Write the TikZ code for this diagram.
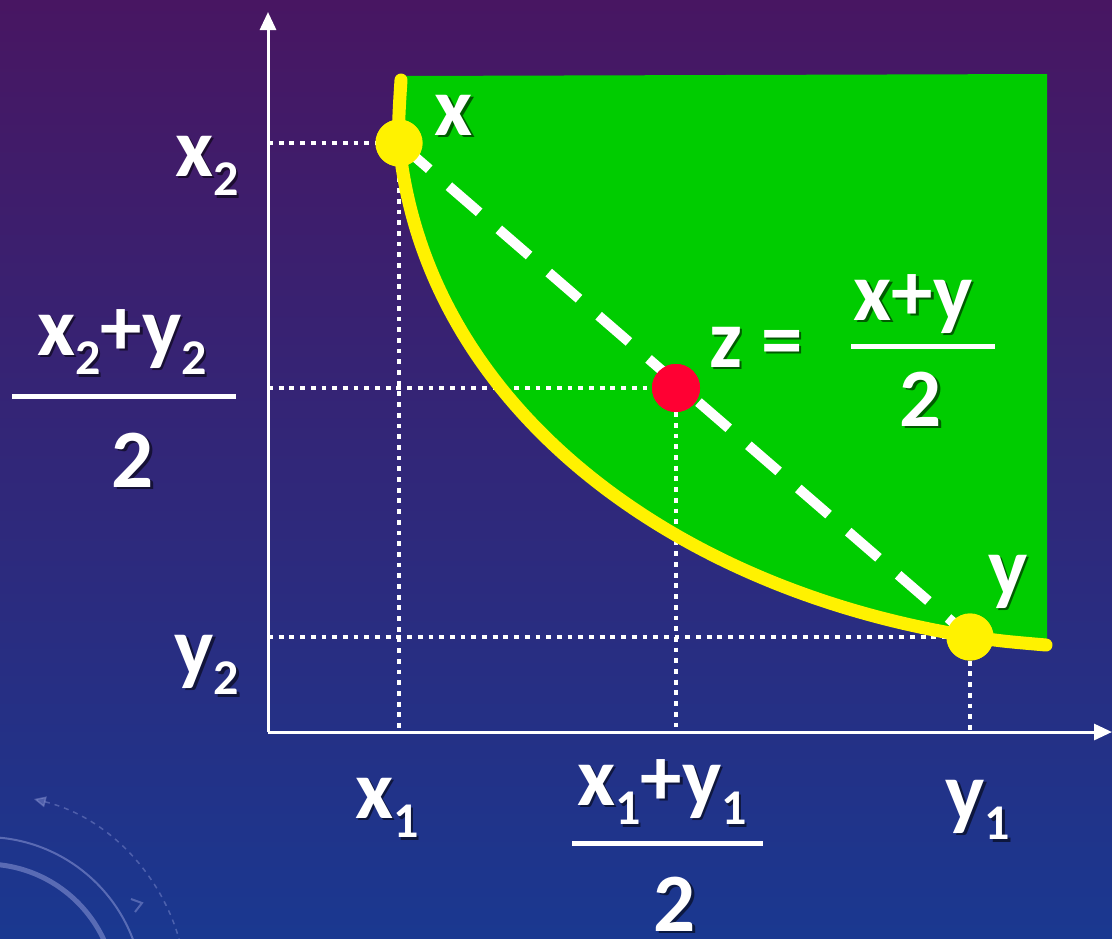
\documentclass[tikz,border=0pt]{standalone}
\usepackage{fontspec}
\setmainfont{Carlito}
\usetikzlibrary{arrows.meta}
\definecolor{bgtop}{RGB}{72,22,98}
\definecolor{bgmid}{RGB}{44,32,110}
\definecolor{bgbot}{RGB}{26,56,144}
\definecolor{areagreen}{RGB}{0,204,0}
\definecolor{ptred}{RGB}{255,0,51}
\definecolor{deco}{RGB}{150,160,220}
\newcommand{\sbs}[1]{\raisebox{-0.24em}{\fontsize{50}{50}\selectfont #1}}
\newcommand{\lbl}[3]{%
  \node[shd] (#1-s) at ([shift={(2.5,2.5)}]#2) {#3};
  \node[lbltext] (#1) at (#2) {#3};}
\tikzset{
  lbltext/.style={text=white, font=\fontsize{83}{90}\selectfont\bfseries, inner sep=0pt, anchor=base},
  shd/.style={text=black, text opacity=0.55, font=\fontsize{83}{90}\selectfont\bfseries, inner sep=0pt, anchor=base},
  axisline/.style={white, line width=3pt, -{Triangle[width=16pt,length=18pt]}},
  dots/.style={white, line width=4.8pt, dash pattern=on 4.8pt off 5.9pt},
  dashline/.style={white, line width=10pt, dash pattern=on 40pt off 26pt},
  curve/.style={yellow, line width=13pt, line cap=round},
  ypt/.style={circle, fill=yellow, minimum size=47pt, inner sep=0pt},
  rpt/.style={circle, fill=ptred, minimum size=48pt, inner sep=0pt},
  fracbar/.style={white, line width=5pt},
}
\begin{document}
\begin{tikzpicture}[x=1pt,y=-1pt]
\useasboundingbox (0,0) rectangle (1112,938);
\shade[top color=bgtop, middle color=bgmid, bottom color=bgbot] (0,0) rectangle (1112,938);
% decoration
\begin{scope}
\clip (0,0) rectangle (1112,938);
\draw[deco, line width=5pt, opacity=0.5] (-15,995) circle[radius=131];
\draw[deco, line width=2pt, opacity=0.5] (-15,995) circle[radius=158];
\draw[deco, line width=1.5pt, opacity=0.4, dash pattern=on 5pt off 5pt, -{Triangle[width=11pt,length=12pt]}]
  ([shift={(-12:202)}]-15,995) arc[start angle=-12, end angle=-76, radius=202];
\draw[deco, line width=2pt, opacity=0.45] (131,899) -- (142,903) -- (135,912);
\end{scope}
% axes
\coordinate (O) at (268,732);
\coordinate (ytip) at (268,12);
\coordinate (xtip) at (1112,732);
\draw[axisline] (O) -- (ytip);
\draw[axisline] (O) -- (xtip);
% green region
\fill[areagreen] (401,76) -- (1047,74) -- (1047,645)
  .. controls (1000,641) .. (968,636)
  .. controls (668,588) and (425,403) .. (399,143)
  .. controls (398,130) and (399,110) .. (401,80) -- cycle;
% points
\node[ypt] (px) at (399,143) {};
\node[ypt] (py) at (970,637) {};
\node[rpt] (pz) at (676,388) {};
% dotted guides
\draw[dots] (O |- px) -- (px);
\draw[dots] (O |- pz) -- (pz);
\draw[dots] (O |- py) -- (py);
\draw[dots] (px) -- (px |- O);
\draw[dots] (pz) -- (pz |- O);
\draw[dots] (py) -- (py |- O);
% chord
\draw[dashline] (px.center) -- (py.center);
% curve
\draw[curve] (401,80) .. controls (399,110) and (398,130) .. (399,143)
  .. controls (425,403) and (668,588) .. (968,636)
  .. controls (1000,641) .. (1046,645);
\node[ypt] at (px) {};
\node[ypt] at (py) {};
\node[rpt] at (pz) {};
% labels
\lbl{lx2}{207,176}{x\sbs{2}}
\lbl{ly2}{207,675}{y\sbs{2}}
\lbl{lnum}{122,355}{x\sbs{2}+y\sbs{2}}
\draw[fracbar] (12,396) -- (236,396);
\lbl{lden}{133,487}{2}
\lbl{lx1}{387,818}{x\sbs{1}}
\lbl{bnum}{662,805}{x\sbs{1}+y\sbs{1}}
\draw[fracbar] (572,843) -- (763,843);
\lbl{bden}{675,931}{2}
\lbl{ly1}{978,820}{y\sbs{1}}
\lbl{lx}{454,135}{x}
\lbl{ly}{1008,595}{y}
\lbl{lz}{756,367}{z =}
\lbl{znum}{913,320}{x+y}
\draw[fracbar] (851,346) -- (995,346);
\lbl{zden}{921,426}{2}
\end{tikzpicture}
\end{document}
